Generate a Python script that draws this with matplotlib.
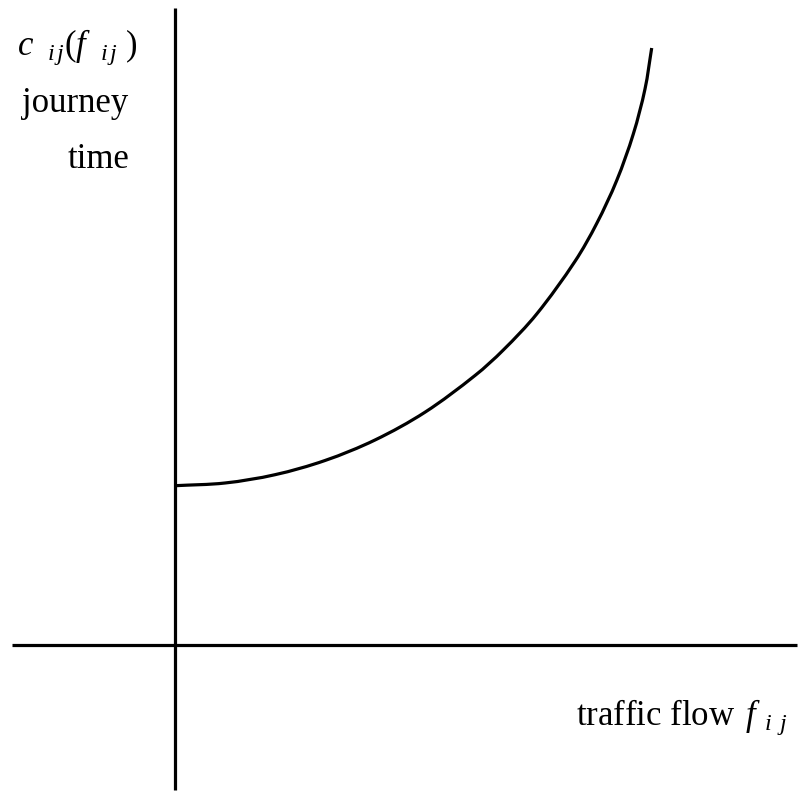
import numpy as np
import matplotlib
matplotlib.use("Agg")
import matplotlib.pyplot as plt
from matplotlib.path import Path
from matplotlib.patches import PathPatch

plt.rcParams["mathtext.fontset"] = "custom"
plt.rcParams["mathtext.rm"] = "Liberation Serif"
plt.rcParams["mathtext.it"] = "Liberation Serif:italic"
plt.rcParams["font.family"] = "Liberation Serif"

# journey-time curve c_ij(f_ij) against traffic flow f_ij
flow = [0.00, 0.50, 1.00, 1.50, 2.00, 2.50, 3.00, 3.283, 3.617, 4.00, 4.217, 4.417, 4.583, 4.70, 4.767]
journey_time = [1.593, 1.62, 1.703, 1.845, 2.05, 2.328, 2.695, 2.95, 3.31, 3.837, 4.215, 4.645, 5.11, 5.56, 5.97]


def smooth_path(xs, ys):
    """Chord-length Hermite spline through the points, as cubic Bezier segments."""
    pts = np.column_stack([xs, ys]).astype(float)
    n = len(pts)
    d = np.linalg.norm(np.diff(pts, axis=0), axis=1)
    tang = np.zeros_like(pts)
    tang[0] = (pts[1] - pts[0]) / d[0]
    tang[-1] = (pts[-1] - pts[-2]) / d[-1]
    for i in range(1, n - 1):
        tang[i] = (pts[i + 1] - pts[i - 1]) / (d[i - 1] + d[i])
    verts = [pts[0]]
    codes = [Path.MOVETO]
    for i in range(n - 1):
        c1 = pts[i] + tang[i] * d[i] / 3.0
        c2 = pts[i + 1] - tang[i + 1] * d[i] / 3.0
        verts += [c1, c2, pts[i + 1]]
        codes += [Path.CURVE4] * 3
    return Path(verts, codes)


fig = plt.figure(figsize=(8.01, 8.05), dpi=100)
ax = fig.add_axes([0, 0, 1, 1])
ax.set_xlim(-1.75, 6.26)
ax.set_ylim(-1.60, 6.45)
ax.axis("off")

lw = 2.3
ax.plot([0, 0], [-1.45, 6.37], color="black", lw=lw, solid_capstyle="butt")
ax.plot([-1.63, 6.22], [0, 0], color="black", lw=lw, solid_capstyle="butt")
ax.add_patch(PathPatch(smooth_path(flow, journey_time), fill=False,
                       edgecolor="black", lw=lw, capstyle="butt"))

fs = 25
ax.text(-0.37, 5.90, r"$c_{\ \ \,i\,j}(f_{\ \ \,i\,j}\ )$", ha="right", va="baseline", fontsize=fs)
ax.text(-0.47, 5.33, "journey", ha="right", va="baseline", fontsize=fs)
ax.text(-0.45, 4.77, "time", ha="right", va="baseline", fontsize=fs)
ax.text(6.13, -0.80, r"traffic flow$\ \,f_{\ \,i\ \,j}$", ha="right", va="baseline", fontsize=fs)

fig.savefig("out.png", dpi=100)
